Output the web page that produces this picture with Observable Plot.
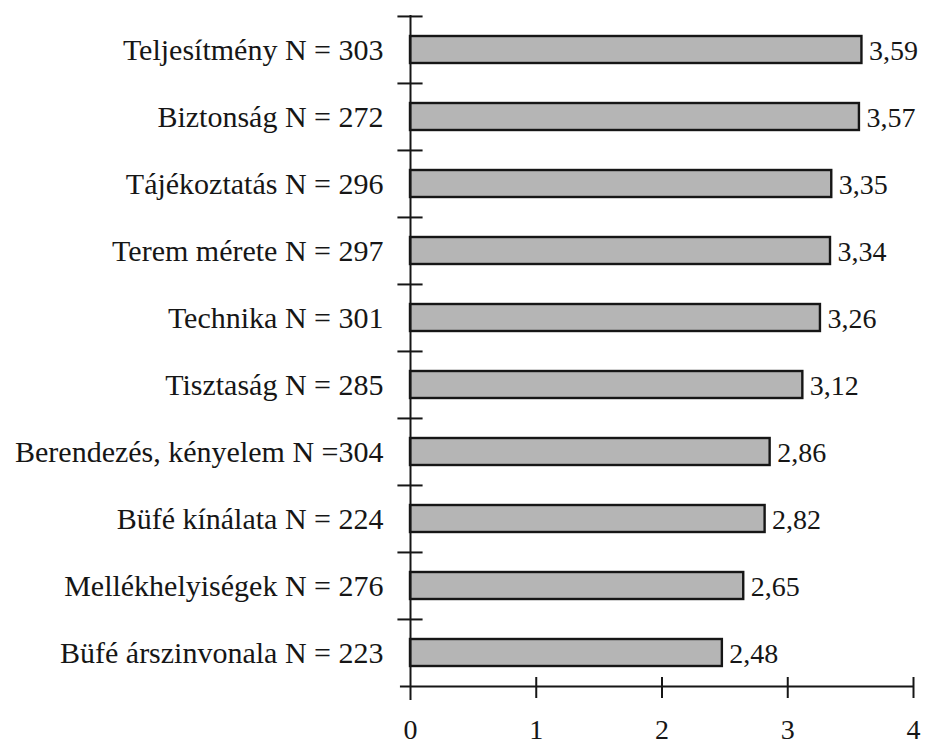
<!DOCTYPE html>
<html>
<head>
<meta charset="utf-8">
<script src="https://cdn.jsdelivr.net/npm/d3@7"></script>
<script src="https://cdn.jsdelivr.net/npm/@observablehq/plot@0.6"></script>
<style>
  html, body { margin: 0; padding: 0; background: #fff; }
  #chart svg { display: block; }
</style>
</head>
<body>
<div id="chart"></div>
<script>
const categories = [
  "Teljesítmény N = 303",
  "Biztonság N = 272",
  "Tájékoztatás N = 296",
  "Terem mérete N = 297",
  "Technika N = 301",
  "Tisztaság N = 285",
  "Berendezés, kényelem N =304",
  "Büfé kínálata N = 224",
  "Mellékhelyiségek N = 276",
  "Büfé árszinvonala N = 223"
];
const values = [3.59, 3.57, 3.35, 3.34, 3.26, 3.12, 2.86, 2.82, 2.65, 2.48];
const xTicks = [0, 1, 2, 3, 4];

const data = categories.map((c, i) => ({category: c, value: values[i]}));

const W = 925, H = 747;
const mTop = 15, mBottom = 61, mLeft = 410, mRight = 12;
const frameH = H - mTop - mBottom;
const step = frameH / categories.length;
const font = "'Liberation Serif', 'Times New Roman', serif";
const comma = d => d.toFixed(2).replace(".", ",");

const chart = Plot.plot({
  width: W,
  height: H,
  marginTop: mTop,
  marginBottom: mBottom,
  marginLeft: mLeft,
  marginRight: mRight,
  style: {fontFamily: font, fontSize: "28px", color: "#161616", background: "#fff"},
  x: {domain: [0, 4]},
  y: {domain: categories, padding: 0},
  marks: [
    Plot.barX(data, {
      x: "value", y: "category",
      fill: "#b5b5b5", stroke: "#161616", strokeWidth: 2.4,
      insetTop: 20, insetBottom: 20
    }),
    Plot.text(data, {
      x: "value", y: "category", text: d => comma(d.value),
      textAnchor: "start", dx: 7, dy: 1,
      fontSize: 28, fill: "#161616"
    }),
    // category separators (top boundary of each band)
    Plot.ruleY(categories, {y: d => d, dy: -step / 2, x1: -0.1, x2: 0.1, stroke: "#161616", strokeWidth: 2}),
    // x axis line (bottom boundary of last band)
    Plot.ruleY([categories[categories.length - 1]], {y: d => d, dy: step / 2, x1: -0.08, x2: 4, stroke: "#161616", strokeWidth: 2}),
    // vertical axis line
    Plot.ruleX([0], {stroke: "#161616", strokeWidth: 2, insetBottom: -14}),
    // x ticks crossing the axis
    Plot.tickX(xTicks.slice(1), {x: d => d, stroke: "#161616", strokeWidth: 2, insetTop: frameH - 9, insetBottom: -12}),
    Plot.axisX({ticks: xTicks, tickSize: 0, tickPadding: 33, tickFormat: d => String(d), label: null, fontSize: 28}),
    Plot.axisY({tickSize: 0, tickPadding: 27, label: null, fontSize: 30})
  ]
});
document.getElementById("chart").appendChild(chart);
</script>
</body>
</html>
